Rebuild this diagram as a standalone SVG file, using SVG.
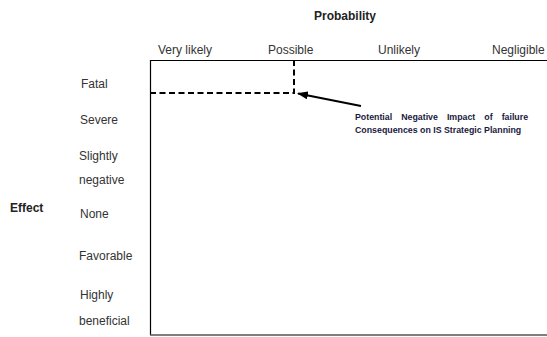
<svg xmlns="http://www.w3.org/2000/svg" width="547" height="337" viewBox="0 0 547 337">
<style>
text{font-family:"Liberation Sans",Arial,sans-serif;fill:#222}
.h{font-weight:bold;font-size:12px}
.l{font-size:12px;fill:#333}
.n{font-weight:bold;font-size:8.8px;fill:#1a1a40}
</style>
<defs>
<marker id="ah" markerWidth="11" markerHeight="8" refX="10" refY="4" orient="auto" markerUnits="userSpaceOnUse">
<path d="M0,0 L11,4 L0,8 Z" fill="#000"/>
</marker>
</defs>
<rect width="547" height="337" fill="#fff"/>
<g id="axis-titles">
<text class="h" x="345" y="20" text-anchor="middle">Probability</text>
<text class="h" x="10" y="212">Effect</text>
</g>
<g id="columns">
<text class="l" x="158" y="54">Very likely</text>
<text class="l" x="268" y="54">Possible</text>
<text class="l" x="378" y="54">Unlikely</text>
<text class="l" x="492" y="54">Negligible</text>
</g>
<g id="rows">
<text class="l" x="81" y="88">Fatal</text>
<text class="l" x="80" y="124">Severe</text>
<text class="l" x="79" y="160">Slightly</text>
<text class="l" x="79" y="184">negative</text>
<text class="l" x="80" y="218">None</text>
<text class="l" x="79" y="260">Favorable</text>
<text class="l" x="80" y="299">Highly</text>
<text class="l" x="79" y="325">beneficial</text>
</g>
<g id="grid">
<line x1="150" y1="60.5" x2="547" y2="60.5" stroke="#000" stroke-width="1"/>
<line x1="150.5" y1="60" x2="150.5" y2="335" stroke="#000" stroke-width="1.2"/>
<line x1="150" y1="335" x2="547" y2="335" stroke="#555" stroke-width="1.6"/>
</g>
<g id="connectors">
<path d="M150,93 H294 V60" fill="none" stroke="#000" stroke-width="2" stroke-dasharray="6,3.5"/>
<line x1="361" y1="106" x2="298" y2="93.5" stroke="#000" stroke-width="2" marker-end="url(#ah)"/>
</g>
<g id="note">
<text class="n" x="355" y="120" word-spacing="6.6">Potential Negative Impact of failure</text>
<text class="n" x="355" y="133">Consequences on IS Strategic Planning</text>
</g>
</svg>
